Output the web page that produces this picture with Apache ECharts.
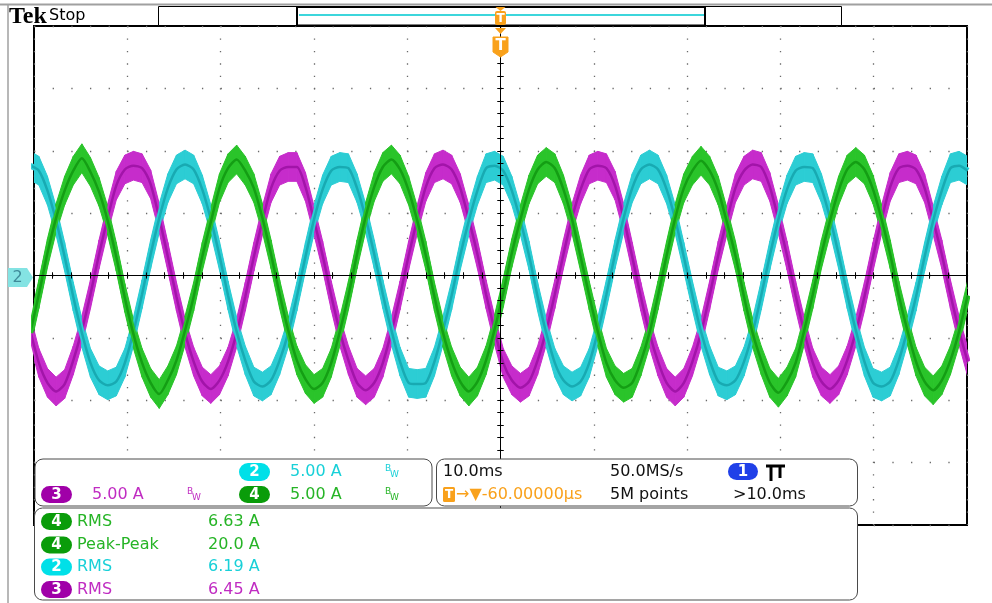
<!DOCTYPE html>
<html><head><meta charset="utf-8">
<script src="https://cdn.jsdelivr.net/npm/echarts@6/dist/echarts.min.js"></script>
<style>html,body{margin:0;padding:0;background:#fff}#c{width:992px;height:603px}</style>
</head><body><div id="c"></div>
<script>
// ---- acquisition ----
const sampleIntervalMs = 0.9217;   // time between plotted samples
const firstSampleMs = -50.4;       // time of the first sample (screen centre = 0)
const rippleA = 1.15;              // half height of the switching-ripple band

// Channel 4 (green) current, A
const ch4Green = [
 -4.6,-1.5,1.8,4.6,6.8,8.4,9.4,8.3,6.7,4.4,1.5,-1.8,-4.7,-7.0,-8.6,-9.5,-8.4,-6.8,
 -4.4,-1.7,1.5,4.3,7.0,8.6,9.3,8.4,7.0,4.6,1.7,-1.5,-4.4,-6.8,-8.3,-9.1,-8.6,-7.0,
 -4.5,-1.6,1.7,4.7,7.1,8.7,9.3,8.5,6.8,4.4,1.6,-1.7,-4.6,-6.9,-8.5,-9.3,-8.5,-6.8,
 -4.3,-1.4,1.8,4.5,6.9,8.5,9.1,8.6,6.9,4.5,1.5,-1.6,-4.5,-7.0,-8.4,-9.0,-8.6,-6.9,
 -4.6,-1.6,1.6,4.6,7.0,8.4,9.2,8.4,6.8,4.3,1.6,-1.7,-4.6,-6.8,-8.6,-9.4,-8.5,-7.0,
 -4.4,-1.5,1.7,4.4,6.8,8.5,9.1,8.5,6.9,4.5,1.7,-1.6,-4.4,-6.9,-8.5,-9.2,-8.4,-6.8,
 -4.5,-1.6
];
// Channel 3 (magenta) current, A
const ch3Magenta = [
 -4.4,-7.0,-8.6,-9.3,-8.7,-6.8,-4.4,-1.5,1.7,4.6,7.2,8.5,8.8,8.6,7.3,4.6,1.5,-1.7,
 -4.6,-6.9,-8.5,-9.1,-8.4,-6.9,-4.6,-1.7,1.5,4.4,7.0,8.4,8.7,8.7,7.1,4.4,1.6,-1.6,
 -4.5,-6.8,-8.6,-9.2,-8.6,-7.0,-4.5,-1.6,1.6,4.5,7.1,8.6,8.9,8.5,7.0,4.5,1.7,-1.5,
 -4.4,-7.0,-8.4,-9.0,-8.5,-6.8,-4.4,-1.5,1.7,4.6,6.9,8.5,8.8,8.6,7.2,4.6,1.5,-1.7,
 -4.6,-6.9,-8.6,-9.3,-8.6,-6.9,-4.6,-1.6,1.6,4.4,7.0,8.4,8.9,8.7,7.1,4.5,1.6,-1.6,
 -4.5,-7.0,-8.5,-9.1,-8.4,-6.8,-4.5,-1.7,1.5,4.5,7.1,8.6,8.8,8.5,7.0,4.4,1.7,-1.5,
 -4.4,-6.9
];
// Channel 2 (cyan) current, A
const ch2Cyan = [
 8.8,8.4,6.8,4.4,1.5,-1.7,-4.6,-7.0,-8.4,-8.8,-8.5,-7.0,-4.5,-1.5,1.7,4.6,7.0,8.5,
 8.9,8.5,6.9,4.5,1.6,-1.6,-4.5,-6.8,-8.5,-8.9,-8.4,-6.8,-4.6,-1.7,1.5,4.5,6.9,8.4,
 8.7,8.6,7.0,4.6,1.7,-1.5,-4.4,-6.9,-8.6,-8.7,-8.6,-6.9,-4.4,-1.6,1.6,4.4,6.8,8.6,
 8.8,8.4,6.8,4.4,1.6,-1.7,-4.6,-7.0,-8.4,-8.9,-8.5,-7.0,-4.5,-1.5,1.7,4.6,7.0,8.5,
 8.9,8.5,6.9,4.5,1.5,-1.6,-4.5,-6.8,-8.5,-8.8,-8.4,-6.9,-4.6,-1.6,1.6,4.5,6.9,8.4,
 8.7,8.6,7.0,4.6,1.7,-1.5,-4.4,-6.9,-8.6,-8.9,-8.5,-6.8,-4.4,-1.7,1.5,4.4,6.8,8.6,
 8.8,8.4
];

// Screen scale: 10 ms/div horizontally, 5 A/div vertically
const xMinMs = -50, xMaxMs = 50, xDivMs = 10;
const yMinA = -20, yMaxA = 20, yDivA = 5;

// Readouts
const channelScale = [
  {ch:'2', text:'5.00 A'},
  {ch:'3', text:'5.00 A'},
  {ch:'4', text:'5.00 A'}
];
const measurements = [
  {ch:'4', name:'RMS', value:'6.63 A'},
  {ch:'4', name:'Peak-Peak', value:'20.0 A'},
  {ch:'2', name:'RMS', value:'6.19 A'},
  {ch:'3', name:'RMS', value:'6.45 A'}
];
const timebaseText = '10.0ms', sampleRateText = '50.0MS/s', recordText = '5M points';
const triggerPosText = '\u2192\u25BC-60.00000\u00B5s', triggerCondText = '>10.0ms';

// ---- styling ----
const F = '"DejaVu Sans", sans-serif';
const col = {
  '2': {fill:'#2ccdd4', line:'#18aab2', text:'#18d0d8', badge:'#00e0e8'},
  '3': {fill:'#c62ccb', line:'#a214a9', text:'#c02cc2', badge:'#a000a8'},
  '4': {fill:'#2ac42a', line:'#149e14', text:'#26b426', badge:'#0a9c0a'}
};
const orange = '#f9a11b';

function sampleTimes(n){ const a=[]; for(let i=0;i<n;i++) a.push(+(firstSampleMs+i*sampleIntervalMs).toFixed(4)); return a; }
function channelSeries(id, vals){
  const t = sampleTimes(vals.length), c = col[id];
  const data = vals.map((v,i)=>[t[i], v]);
  return [
    {type:'custom', name:'band'+id, silent:true, clip:true, z:2, xAxisIndex:0, yAxisIndex:0,
      data: data.slice(0, -1),
      renderItem: function(params, api){
        const i = params.dataIndex, a = data[i], b = data[i+1];
        const pts = [api.coord([a[0], a[1]+rippleA]), api.coord([b[0], b[1]+rippleA]),
                     api.coord([b[0], b[1]-rippleA]), api.coord([a[0], a[1]-rippleA])];
        return {type:'polygon', shape:{points:pts}, style:{fill:c.fill, stroke:c.fill, lineWidth:1}};
      }},
    {type:'line', name:'CH'+id, data, symbol:'none', smooth:0.25, silent:true, z:3,
      xAxisIndex:0, yAxisIndex:0, lineStyle:{width:6, color:c.fill}},
    {type:'line', name:'CH'+id+'core', data, symbol:'none', smooth:0.25, silent:true, z:3,
      xAxisIndex:0, yAxisIndex:0, lineStyle:{width:2.5, color:c.line}}
  ];
}

const tickStyle = {color:'#000', width:1};
function xAx(pos, opts){
  return Object.assign({type:'value', min:xMinMs, max:xMaxMs, interval:xDivMs, position:pos,
    axisLabel:{show:false}, splitLine:{show:false}, axisLine:{show:false},
    axisTick:{show:true, inside:true, length:3, lineStyle:tickStyle},
    minorTick:{show:true, splitNumber:5, length:3, lineStyle:tickStyle}}, opts);
}
function yAx(pos, opts){
  return Object.assign({type:'value', min:yMinA, max:yMaxA, interval:yDivA, position:pos,
    axisLabel:{show:false}, splitLine:{show:false}, axisLine:{show:false},
    axisTick:{show:true, inside:true, length:3, lineStyle:tickStyle},
    minorTick:{show:true, splitNumber:5, length:3, lineStyle:tickStyle}}, opts);
}
const centerLine = {show:true, onZero:true, onZeroAxisIndex:0, lineStyle:{color:'#000', width:1}};
const outTick = {show:true, inside:false, length:3, lineStyle:tickStyle};
const outMinor = {show:true, splitNumber:5, length:3, lineStyle:tickStyle};

const xAxis = [
  xAx('bottom', {z:1, splitLine:{show:true, lineStyle:{color:'#6a6a6a', width:1.3, type:[1.3, 11.15]}}}),
  xAx('top', {z:1}),
  xAx('bottom', {z:10, axisLine:centerLine, axisTick:outTick, minorTick:outMinor}),
  xAx('top', {z:10, axisLine:centerLine, axisTick:outTick, minorTick:outMinor})
];
const yAxis = [
  yAx('left', {z:1, splitLine:{show:true, lineStyle:{color:'#6a6a6a', width:1.3, type:[1.3, 17.36]}}}),
  yAx('right', {z:1}),
  yAx('left', {z:10, axisLine:centerLine, axisTick:outTick, minorTick:outMinor}),
  yAx('right', {z:10, axisLine:centerLine, axisTick:outTick, minorTick:outMinor})
];

// ---- decorations (screen chrome) ----
function txt(x, y, text, fill, font, align){
  return {type:'text', x, y, z:102, style:{text, fill, font: font || ('16px '+F),
    align: align||'left', verticalAlign:'middle', textAlign: align||'left', textVerticalAlign:'middle'}};
}
function badge(x, y, w, h, fill, label){
  return [
    {type:'rect', z:101, shape:{x, y, width:w, height:h, r:h/2}, style:{fill}},
    txt(x+w/2, y+h/2+0.5, label, '#fff', 'bold 15px '+F, 'center')
  ];
}
function bw(x, y, fill){ return [txt(x, y-3, 'B', fill, '9px '+F), txt(x+5, y+3, 'W', fill, '9px '+F)]; }

const g = [];
// outer frame
g.push({type:'line', z:100, shape:{x1:0,y1:4.5,x2:992,y2:4.5}, style:{stroke:'#a0a0a0', lineWidth:2}});
g.push({type:'line', z:100, shape:{x1:8,y1:4,x2:8,y2:603}, style:{stroke:'#a0a0a0', lineWidth:1.5}});
// Tek Stop
g.push(txt(9, 17, 'Tek', '#000', 'bold 24px "Liberation Serif", serif'));
g.push(txt(49, 16, 'Stop', '#000', '16px '+F));
// record bar
g.push({type:'rect', z:100, shape:{x:158.5,y:6.5,width:683,height:19}, style:{fill:'#fff', stroke:'#000', lineWidth:1}});
g.push({type:'rect', z:100, shape:{x:297,y:7,width:408,height:18.5}, style:{fill:'#fff', stroke:'#000', lineWidth:2}});
g.push({type:'line', z:101, shape:{x1:299,y1:15,x2:704,y2:15}, style:{stroke:'#3cd6dc', lineWidth:2}});
g.push({type:'polygon', z:102, shape:{points:[[495.5,7],[505.5,7],[500.5,11]]}, style:{fill:orange}});
g.push({type:'rect', z:102, shape:{x:495,y:11,width:11,height:14,r:2}, style:{fill:orange}});
g.push(txt(500.5, 18.5, 'T', '#fff', 'bold 12px '+F, 'center'));
// trigger position marker
g.push({type:'polygon', z:102, shape:{points:[[495,28],[506,28],[500.5,34]]}, style:{fill:orange}});
g.push({type:'polygon', z:102, shape:{points:[[493,37],[508,37],[508,52],[500.5,57],[493,52]]}, style:{fill:orange, stroke:orange, lineWidth:1, lineJoin:'round'}});
g.push(txt(500.5, 46, 'T', '#fff', 'bold 15px '+F, 'center'));
// channel 2 ground marker
g.push({type:'polygon', z:102, shape:{points:[[8,268],[27,268],[33,277.5],[27,287],[8,287]]}, style:{fill:'#84e3e3'}});
g.push(txt(17.5, 278, '2', '#3f8b99', '16px '+F, 'center'));

// panels
g.push({type:'rect', z:100, shape:{x:35,y:459,width:397,height:47,r:8}, style:{fill:'#fff', stroke:'#4a4a4a', lineWidth:1}});
g.push({type:'rect', z:100, shape:{x:436.5,y:459,width:421,height:47,r:8}, style:{fill:'#fff', stroke:'#4a4a4a', lineWidth:1}});
g.push({type:'rect', z:100, shape:{x:34.5,y:508,width:823,height:92,r:8}, style:{fill:'#fff', stroke:'#4a4a4a', lineWidth:1}});

// channel scale panel
const s2 = channelScale[0], s3 = channelScale[1], s4 = channelScale[2];
g.push(...badge(239, 463, 31, 18, col['2'].badge, s2.ch));
g.push(txt(290, 472, s2.text, col['2'].text));
g.push(...bw(385, 472, col['2'].text));
g.push(...badge(41, 486, 31, 17, col['3'].badge, s3.ch));
g.push(txt(92, 494.5, s3.text, col['3'].text));
g.push(...bw(187, 494.5, col['3'].text));
g.push(...badge(239, 486, 31, 17, col['4'].badge, s4.ch));
g.push(txt(290, 494.5, s4.text, col['4'].text));
g.push(...bw(385, 494.5, col['4'].text));

// timebase panel
g.push(txt(443, 472, timebaseText, '#111'));
g.push(txt(610, 472, sampleRateText, '#111'));
g.push(...badge(728, 463, 30, 17, '#2040e8', '1'));
g.push({type:'polyline', z:102, shape:{points:[[766,466],[785,466]]}, style:{stroke:'#000', lineWidth:3}});
g.push({type:'polyline', z:102, shape:{points:[[771,466],[771,481]]}, style:{stroke:'#000', lineWidth:3}});
g.push({type:'polyline', z:102, shape:{points:[[780,466],[780,478]]}, style:{stroke:'#000', lineWidth:3}});
g.push({type:'rect', z:101, shape:{x:443,y:487,width:12,height:15,r:1.5}, style:{fill:orange}});
g.push(txt(449, 495, 'T', '#fff', 'bold 12px '+F, 'center'));
g.push(txt(456, 494.5, triggerPosText, orange));
g.push(txt(610, 494.5, recordText, '#111'));
g.push(txt(733, 494.5, triggerCondText, '#111'));

// measurement panel
const rowY = [521.5, 545, 567, 589.5];
measurements.forEach((m, i) => {
  const c = col[m.ch];
  g.push(...badge(41, rowY[i]-8.5, 31, 17, c.badge, m.ch));
  g.push(txt(77, rowY[i], m.name, c.text));
  g.push(txt(208, rowY[i], m.value, c.text));
});

const series = [].concat(channelSeries('3', ch3Magenta), channelSeries('2', ch2Cyan), channelSeries('4', ch4Green));

const chart = echarts.init(document.getElementById('c'), null, {renderer:'canvas'});
chart.setOption({
  animation:false,
  backgroundColor:'#fff',
  grid:{left:34, top:26, width:933, height:499, show:true, borderColor:'#000', borderWidth:2, backgroundColor:'#fff', containLabel:false},
  xAxis, yAxis, series, graphic: g
});
</script></body></html>
